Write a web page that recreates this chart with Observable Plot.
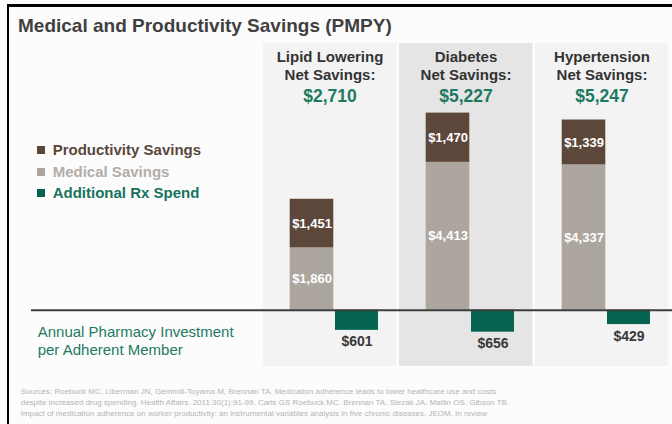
<!DOCTYPE html>
<html><head><meta charset="utf-8">
<script src="https://cdn.jsdelivr.net/npm/d3@7"></script>
<script src="https://cdn.jsdelivr.net/npm/@observablehq/plot@0.6"></script>
<style>
body{margin:0;background:#fff;font-family:"Liberation Sans",Arial,sans-serif;}
#wrap{position:relative;width:672px;height:424px;background:#fcfcfc;overflow:hidden;}
#wrap svg{position:absolute;left:0;top:0;}
.abs{position:absolute;white-space:nowrap;}
#frame{position:absolute;left:7px;top:4px;width:700px;height:450px;border-top:3px solid #000;border-left:2px solid #000;}
#title{left:18px;top:15.6px;font-size:19px;line-height:1;font-weight:bold;color:#404040;}
.leg{font-size:15px;line-height:1;font-weight:bold;}
.sw{position:absolute;width:7.7px;height:7.7px;}
#caption{left:37.7px;top:323.1px;font-size:15px;line-height:18px;color:#1e7a63;}
#sources{left:20.7px;top:385.6px;font-size:8px;line-height:11.2px;color:#b4b4b4;}
</style></head><body>
<div id="wrap">
  <div id="frame"></div>
  <div id="title" class="abs">Medical and Productivity Savings (PMPY)</div>
  <div id="caption" class="abs">Annual Pharmacy Investment<br>per Adherent Member</div>
  <div id="sources" class="abs"></div>
</div>
<script>
const conditions = ["Lipid Lowering", "Diabetes", "Hypertension"];
const medicalSavings = [1860, 4413, 4337];
const productivitySavings = [1451, 1470, 1339];
const rxSpend = [601, 656, 429];
const netSavings = [2710, 5227, 5247];
const seriesNames = ["Productivity Savings", "Medical Savings", "Additional Rx Spend"];
const seriesColors = ["#5c473a", "#ada69e", "#05634f"];
const legendTextColors = ["#5a473b", "#b3ada8", "#177260"];
const sourceLines = [
  "Sources: Roebuck MC, Liberman JN, Gemmill-Toyama M, Brennan TA. Medication adherence leads to lower healthcare use and costs",
  "despite increased drug spending. Health Affairs. 2011:30(1):91-99. Carls GS Roebuck MC. Brennan TA. Slezak JA. Matlin OS. Gibson TB.",
  "Impact of medication adherence on worker productivity: an instrumental variables analysis in five chronic diseases. JEOM. In review"
];

const fmt = d3.format("$,");
const stacked = [];
conditions.forEach((c, i) => {
  stacked.push({condition: c, series: "Medical Savings", value: medicalSavings[i]});
  stacked.push({condition: c, series: "Productivity Savings", value: productivitySavings[i]});
});
const rx = conditions.map((c, i) => ({condition: c, series: "Additional Rx Spend", value: -rxSpend[i], amount: rxSpend[i]}));
const headers = conditions.map((c, i) => ({condition: c, net: fmt(netSavings[i])}));
const stackOrder = ["Medical Savings", "Productivity Savings"];

const plot = Plot.plot({
  width: 672, height: 424,
  marginTop: 43, marginBottom: 58, marginLeft: 31, marginRight: 0,
  style: {background: "transparent", fontFamily: "Liberation Sans, Arial, sans-serif", overflow: "visible"},
  x: {domain: conditions, range: [262, 672], padding: 0, axis: null},
  y: {domain: [-1680, 7960], axis: null},
  color: {domain: seriesNames, range: seriesColors},
  marks: [
    Plot.cell(conditions.filter(c => c !== "Diabetes"), {x: d => d, fill: "#f3f3f3", insetLeft: 0, insetRight: 2.5}),
    Plot.cell(conditions.filter(c => c === "Diabetes"), {x: d => d, fill: "#e5e5e5", insetLeft: 0, insetRight: 2.5}),
    Plot.barY(stacked, {x: "condition", y: "value", fill: "series", z: "series", order: stackOrder, insetLeft: 26.7, insetRight: 65.7}),
    Plot.barY(rx, {x: "condition", y: "value", fill: "series", insetLeft: 72, insetRight: 21}),
    Plot.ruleY([0], {stroke: "#3d3d3d", strokeWidth: 2}),
    Plot.text(stacked, Plot.stackY({x: "condition", y: "value", z: "series", order: stackOrder, text: d => fmt(d.value), fill: "white", fontWeight: "bold", fontSize: 13, dx: -19.5})),
    Plot.text(rx, {x: "condition", y: "value", text: d => fmt(d.amount), lineAnchor: "top", dy: 6, dx: 25.5, fontSize: 14, fontWeight: "bold", fill: "#383838"}),
    Plot.text(headers, {x: "condition", text: "condition", frameAnchor: "top", lineAnchor: "bottom", dy: 18, dx: -1.5, fontSize: 15, fontWeight: "bold", fill: "#333"}),
    Plot.text(headers, {x: "condition", text: () => "Net Savings:", frameAnchor: "top", lineAnchor: "bottom", dy: 36.3, dx: -1.5, fontSize: 15, fontWeight: "bold", fill: "#333"}),
    Plot.text(headers, {x: "condition", text: "net", frameAnchor: "top", lineAnchor: "bottom", dy: 58, dx: -1.5, fontSize: 17.5, fontWeight: "bold", fill: "#1d7a61"})
  ]
});
const wrap = document.getElementById("wrap");
wrap.insertBefore(plot, wrap.firstChild);

// legend
const legTops = [141.7, 164.4, 185.4];
const legCenters = [149.7, 172.1, 193.1];
seriesNames.forEach((name, i) => {
  const sw = document.createElement("div");
  sw.className = "sw";
  sw.style.left = "37.3px";
  sw.style.top = (legCenters[i] - 3.85) + "px";
  sw.style.background = seriesColors[i];
  wrap.appendChild(sw);
  const t = document.createElement("div");
  t.className = "abs leg";
  t.style.left = "52.7px";
  t.style.top = legTops[i] + "px";
  t.style.color = legendTextColors[i];
  t.textContent = name;
  wrap.appendChild(t);
});
document.getElementById("sources").innerHTML = sourceLines.join("<br>");
</script>
</body></html>
